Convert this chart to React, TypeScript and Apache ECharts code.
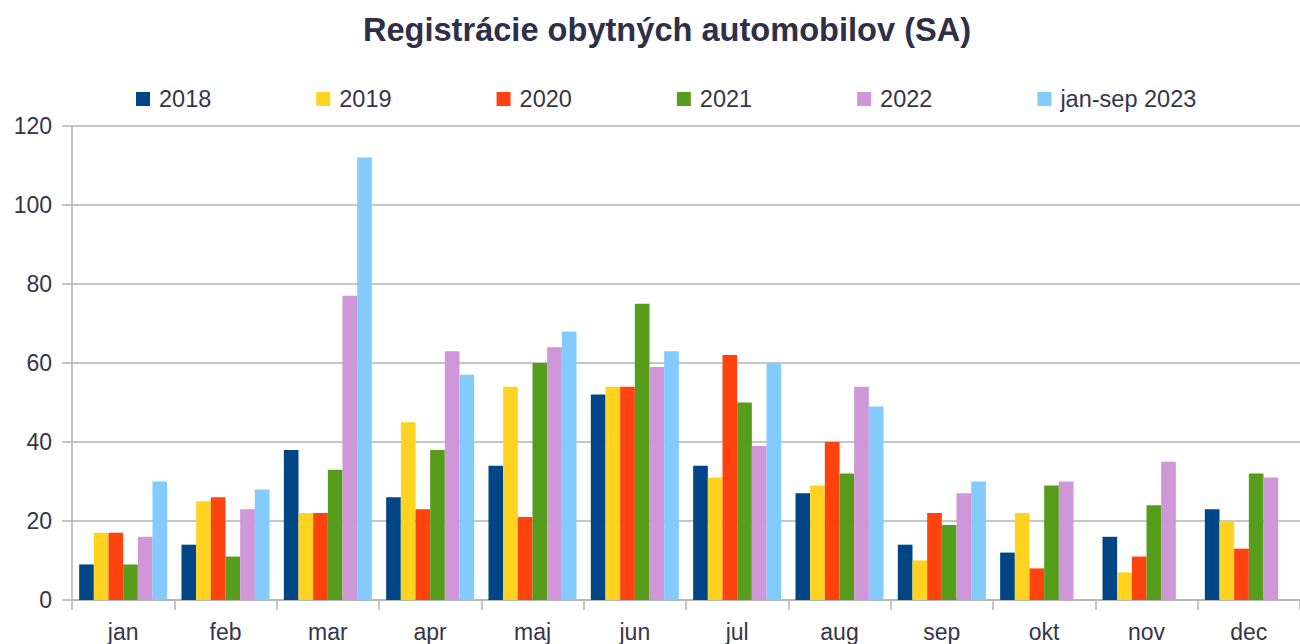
import React, { useEffect, useRef } from "react";
import * as echarts from "echarts";

const months = ["jan", "feb", "mar", "apr", "maj", "jun", "jul", "aug", "sep", "okt", "nov", "dec"];
const seriesNames = ["2018", "2019", "2020", "2021", "2022", "jan-sep 2023"];
const colors = ["#004586", "#ffd320", "#ff420e", "#579d1c", "#cf96d8", "#83caff"];

const v2018 = [9, 14, 38, 26, 34, 52, 34, 27, 14, 12, 16, 23];
const v2019 = [17, 25, 22, 45, 54, 54, 31, 29, 10, 22, 7, 20];
const v2020 = [17, 26, 22, 23, 21, 54, 62, 40, 22, 8, 11, 13];
const v2021 = [9, 11, 33, 38, 60, 75, 50, 32, 19, 29, 24, 32];
const v2022 = [16, 23, 77, 63, 64, 59, 39, 54, 27, 30, 35, 31];
const v2023 = [30, 28, 112, 57, 68, 63, 60, 49, 30, null, null, null];

const yTicks = { min: 0, max: 120, interval: 20 };

const textColor = "#35354a";
const gridColor = "#b3b3b3";
const fontFamily = "'Liberation Sans', Arial, sans-serif";

export default function App() {
  const ref = useRef<HTMLDivElement>(null);

  useEffect(() => {
    if (!ref.current) return;
    const chart = echarts.init(ref.current, null, { renderer: "svg" });
    const allValues = [v2018, v2019, v2020, v2021, v2022, v2023];
    chart.setOption({
      animation: false,
      backgroundColor: "#ffffff",
      textStyle: { fontFamily },
      title: {
        text: "Registrácie obytných automobilov (SA)",
        left: 662,
        top: 8,
        textAlign: "center",
        textStyle: {
          fontFamily,
          fontSize: 32.6,
          fontWeight: "bold",
          color: "#2f2f4a",
        },
      },
      legend: {
        left: 136,
        top: 87,
        padding: 0,
        itemWidth: 14,
        itemHeight: 14,
        itemGap: 105,
        icon: "rect",
        data: seriesNames,
        textStyle: { fontFamily, fontSize: 23.5, color: textColor, padding: [0, 0, 0, 4] },
      },
      grid: {
        left: 72,
        right: -7,
        top: 126,
        bottom: 44,
        containLabel: false,
      },
      xAxis: {
        type: "category",
        data: months,
        axisLine: { show: true, lineStyle: { color: gridColor, width: 1.5 } },
        axisTick: { show: true, length: 10, lineStyle: { color: gridColor, width: 1.5 } },
        axisLabel: { fontFamily, fontSize: 23, color: textColor, margin: 20 },
        splitLine: { show: false },
      },
      yAxis: {
        type: "value",
        min: yTicks.min,
        max: yTicks.max,
        interval: yTicks.interval,
        axisLine: { show: true, lineStyle: { color: gridColor, width: 1.5 } },
        axisTick: { show: true, length: 10, lineStyle: { color: gridColor, width: 1.5 } },
        axisLabel: { fontFamily, fontSize: 23, color: textColor, margin: 20 },
        splitLine: { show: true, lineStyle: { color: gridColor, width: 1.5 } },
      },
      series: seriesNames.map((name, i) => ({
        name,
        type: "bar",
        data: allValues[i],
        barGap: "0%",
        barCategoryGap: "14%",
        itemStyle: { color: colors[i] },
      })),
    });
    return () => chart.dispose();
  }, []);

  return (
    <div
      ref={ref}
      style={{ position: "absolute", left: 0, top: 0, width: 1300, height: 644, background: "#fff" }}
    />
  );
}
